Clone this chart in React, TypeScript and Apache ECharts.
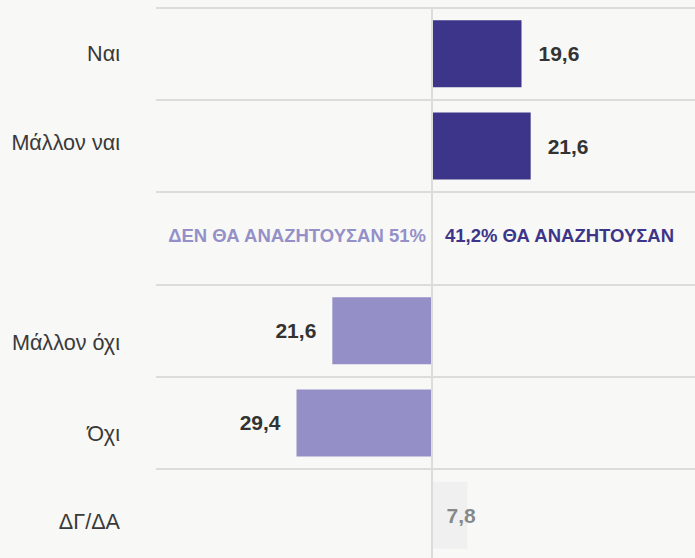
import React, { useEffect, useRef } from "react";
import * as echarts from "echarts";

const categories = ["Ναι", "Μάλλον ναι", "", "Μάλλον όχι", "Όχι", "ΔΓ/ΔΑ"];
const shares: (number | null)[] = [19.6, 21.6, null, 21.6, 29.4, 7.8];
const groups: (string | null)[] = ["yes", "yes", null, "no", "no", "dk"];
const summaryNoText = "ΔΕΝ ΘΑ ΑΝΑΖΗΤΟΥΣΑΝ";
const summaryYesText = "ΘΑ ΑΝΑΖΗΤΟΥΣΑΝ";
const labelShift = [0, -4, 0, 12, 11, 6];

const COLORS: Record<string, string> = { yes: "#3d3589", no: "#948fc7", dk: "#f0f0f0" };
const FONT = "'Liberation Sans', Arial, Helvetica, sans-serif";

const fmt = (v: number) => (Math.round(Math.abs(v) * 10) / 10).toString().replace(".", ",");

export default function App() {
  const ref = useRef<HTMLDivElement>(null);
  useEffect(() => {
    if (!ref.current) return;
    const chart = echarts.init(ref.current, undefined, { renderer: "svg" });

    const sum = (g: string) =>
      shares.reduce((a: number, v, i) => (groups[i] === g && v != null ? a + v : a), 0);
    const yesTotal = sum("yes");
    const noTotal = sum("no");
    const midIndex = groups.indexOf(null);

    const data = shares.map((v, i) => {
      const g = groups[i];
      if (v == null || !g) return null;
      const signed = g === "no" ? -v : v;
      let label: any;
      if (g === "yes") label = { position: "right", distance: 17, color: "#333333" };
      else if (g === "no") label = { position: "left", distance: 16, color: "#333333" };
      else label = { position: "insideLeft", distance: 15, color: "#888888" };
      return { value: signed, itemStyle: { color: COLORS[g] }, label };
    });

    const summaryNo = categories.map((_, i) => (i === midIndex ? 0 : null));
    const summaryYes = categories.map((_, i) => (i === midIndex ? 0 : null));

    const rich: Record<string, any> = {};
    labelShift.forEach((s, i) => {
      rich["l" + i] = {
        fontSize: 21.6,
        fontFamily: FONT,
        color: "#3a3a3a",
        padding: s >= 0 ? [2 * s, 0, 0, 0] : [0, 0, -2 * s, 0],
      };
    });

    chart.setOption({
      animation: false,
      backgroundColor: "#f8f8f6",
      textStyle: { fontFamily: FONT },
      grid: {
        left: 156,
        top: 7.7,
        width: 551,
        height: 553.6,
        containLabel: false,
        outerBoundsMode: "none",
      },
      xAxis: {
        type: "value",
        min: -60,
        max: 60,
        interval: 60,
        axisLine: { show: false },
        axisTick: { show: false },
        axisLabel: { show: false },
        splitLine: { show: false },
      },
      yAxis: {
        type: "category",
        inverse: true,
        data: categories,
        axisLine: { show: false },
        axisTick: { show: false },
        axisLabel: {
          margin: 36,
          formatter: (val: string, idx: number) => (val ? `{l${idx}|${val}}` : ""),
          rich,
        },
        splitLine: { show: true, lineStyle: { color: "#dcdcdc", width: 2 } },
      },
      series: [
        {
          name: "summaryNo",
          type: "bar",
          z: 1,
          barWidth: 67,
          barGap: "-100%",
          data: summaryNo,
          itemStyle: { color: "transparent" },
          label: {
            show: true,
            position: "left",
            distance: 5.5,
            offset: [0, -3],
            color: "#9490c8",
            fontWeight: "bold",
            fontSize: 18.5,
            fontFamily: FONT,
            formatter: () => `${summaryNoText} ${fmt(noTotal)}%`,
          },
          markLine: {
            silent: true,
            symbol: "none",
            label: { show: false },
            lineStyle: { color: "#dcdcdc", width: 2, type: "solid" },
            data: [{ xAxis: 0 }],
          },
        },
        {
          name: "summaryYes",
          type: "bar",
          z: 1,
          barWidth: 67,
          barGap: "-100%",
          data: summaryYes,
          itemStyle: { color: "transparent" },
          label: {
            show: true,
            position: "right",
            distance: 13.5,
            offset: [0, -3],
            color: "#3d3589",
            fontWeight: "bold",
            fontSize: 18.5,
            fontFamily: FONT,
            formatter: () => `${fmt(yesTotal)}% ${summaryYesText}`,
          },
        },
        {
          name: "values",
          type: "bar",
          z: 3,
          barWidth: 67,
          barGap: "-100%",
          data,
          label: {
            show: true,
            fontWeight: "bold",
            fontSize: 21,
            fontFamily: FONT,
            formatter: (p: any) => fmt(p.value),
          },
        },
      ],
    });
    return () => chart.dispose();
  }, []);

  return (
    <div
      ref={ref}
      style={{ position: "absolute", left: 0, top: 0, width: 695, height: 558 }}
    />
  );
}
